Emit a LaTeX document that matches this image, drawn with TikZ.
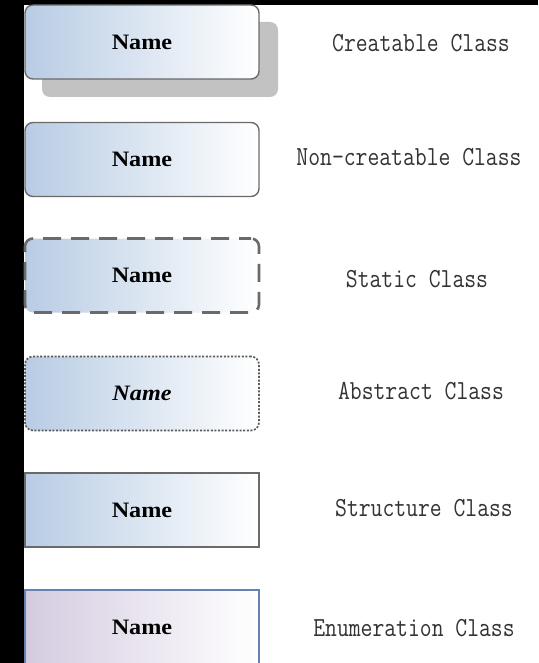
\documentclass[tikz,border=0pt]{standalone}
\usepackage{fontspec}
\setmainfont{Liberation Serif}
\usepackage{graphicx}
\definecolor{framebg}{HTML}{000000}
\definecolor{boxline}{HTML}{6A6A6A}
\definecolor{blueleft}{HTML}{B8CCE4}
\definecolor{lilacleft}{HTML}{D4CBE0}
\definecolor{enumline}{HTML}{6482B4}
\definecolor{shadowgray}{HTML}{C2C2C2}
\definecolor{labeltext}{HTML}{333333}
\tikzset{
  classbox/.style={minimum width=234pt, minimum height=74pt, inner sep=0pt,
    left color=blueleft, right color=white, draw=boxline, line width=1.4pt,
    font=\bfseries\fontsize{22}{22}\selectfont, text=black},
  roundbox/.style={classbox, rounded corners=8pt},
  shadowbox/.style={minimum width=236pt, minimum height=75pt, inner sep=0pt,
    fill=shadowgray, rounded corners=8pt},
  dashbox/.style={roundbox, line width=2.6pt, dash pattern=on 18pt off 10pt, dash phase=6pt},
  dotbox/.style={roundbox, draw=boxline!85!black, line width=1.7pt, dash pattern=on 2pt off 1.6pt},
  enumbox/.style={classbox, left color=lilacleft, draw=enumline, line width=2pt},
  kindlabel/.style={inner sep=0pt, text=labeltext, font=\ttfamily\fontsize{23}{23}\selectfont}
}
\newcommand{\tallname}[1]{\scalebox{1.1}[1]{#1}}
\newcommand{\tallkind}[1]{\scalebox{1}[1.2]{#1}}
\begin{document}
\begin{tikzpicture}[x=1pt, y=-1pt]
  % page frame
  \fill[framebg] (0,0) rectangle (538,663);
  \fill[white] (24,5) rectangle (538,663);
  \useasboundingbox (0,0) rectangle (538,663);

  % class symbols
  \node[shadowbox] (shadow) at (160,59.5) {};
  \node[roundbox] (creatable) at (142,42) {\tallname{Name}};
  \node[roundbox] (noncreatable) at (142,159.5) {\tallname{Name}};
  \node[dashbox] (static) at (142,275.5) {\tallname{Name}};
  \node[dotbox] (abstract) at (142,393.5) {\tallname{\itshape Name}};
  \node[classbox] (structure) at (142,510) {\tallname{Name}};
  \node[enumbox] (enumeration) at (142,627) {\tallname{Name}};

  % their descriptions
  \node[kindlabel] (lcreatable) at (421,43) {\tallkind{Creatable Class}};
  \node[kindlabel] (lnoncreatable) at (409,157) {\tallkind{Non-creatable Class}};
  \node[kindlabel] (lstatic) at (417,279) {\tallkind{Static Class}};
  \node[kindlabel] (labstract) at (421,391) {\tallkind{Abstract Class}};
  \node[kindlabel] (lstructure) at (424,508) {\tallkind{Structure Class}};
  \node[kindlabel] (lenumeration) at (414,628) {\tallkind{Enumeration Class}};
\end{tikzpicture}
\end{document}
